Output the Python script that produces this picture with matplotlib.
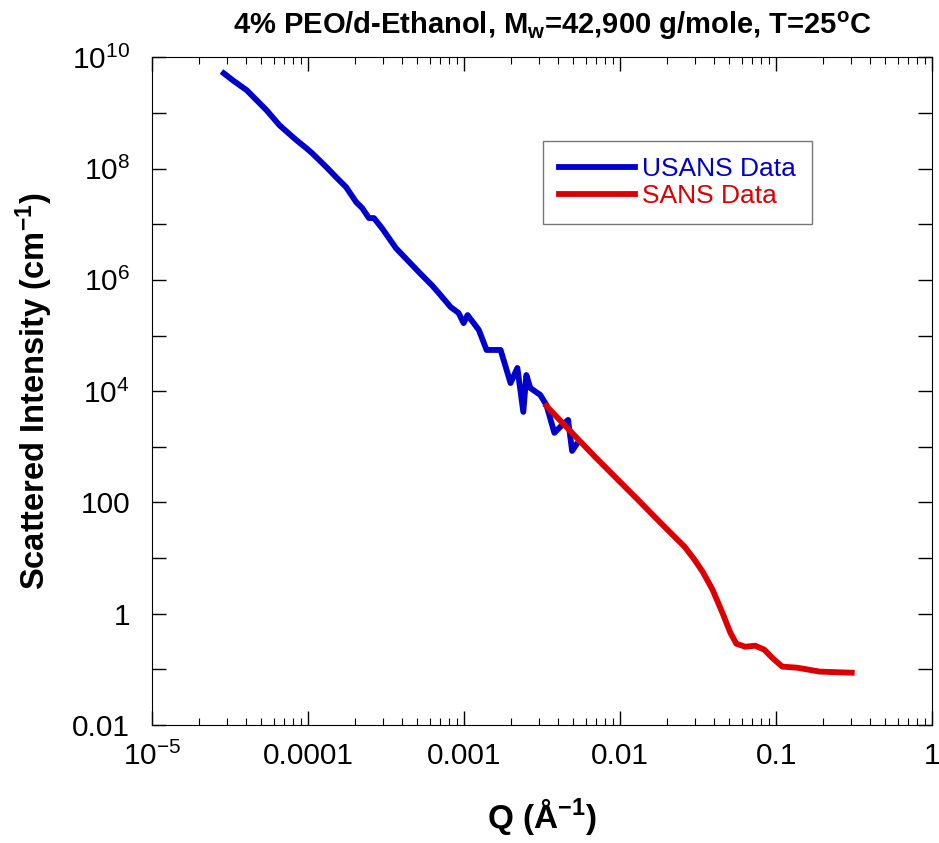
import numpy as np
import matplotlib
matplotlib.use("Agg")
import matplotlib.pyplot as plt
from matplotlib.ticker import FixedLocator, FixedFormatter, LogLocator, NullFormatter

plt.rcParams['font.family'] = ['Liberation Sans', 'DejaVu Sans']
plt.rcParams['mathtext.fontset'] = 'custom'
plt.rcParams['mathtext.rm'] = 'Liberation Sans'
plt.rcParams['mathtext.it'] = 'Liberation Sans'
plt.rcParams['mathtext.bf'] = 'Liberation Sans:bold'
plt.rcParams['mathtext.default'] = 'regular'

# USANS data
q_usans = [2.88e-5, 3.29e-5, 4.04e-5, 5.41e-5, 6.55e-5, 8.41e-5, 9.75e-5, 1.06e-4,
           1.31e-4, 1.51e-4, 1.75e-4, 2.03e-4, 2.22e-4, 2.45e-4, 2.64e-4, 2.97e-4,
           3.65e-4, 5.12e-4, 6.19e-4, 6.87e-4, 8.18e-4, 9.20e-4,
           9.91e-4, 1.05e-3, 1.24e-3, 1.39e-3, 1.71e-3, 1.98e-3, 2.19e-3, 2.39e-3,
           2.50e-3, 2.65e-3, 3.07e-3, 3.36e-3, 3.78e-3, 4.12e-3, 4.63e-3, 4.91e-3,
           5.21e-3]
i_usans = [5.16e9, 3.86e9, 2.56e9, 1.12e9, 6.01e8, 3.24e8, 2.32e8, 1.89e8,
           1.06e8, 7.01e7, 4.64e7, 2.50e7, 1.95e7, 1.29e7, 1.29e7, 8.51e6,
           3.72e6, 1.38e6, 8.07e5, 5.79e5, 3.25e5, 2.54e5,
           1.67e5, 2.33e5, 1.26e5, 5.50e4, 5.50e4, 1.40e4, 2.61e4, 4.24e3,
           1.95e4, 1.14e4, 8.55e3, 5.65e3, 1.78e3, 2.28e3, 3.04e3, 8.43e2,
           1.08e3]

# SANS data
q_sans = [3.36e-3, 4.84e-3, 6.89e-3, 9.66e-3, 1.30e-2, 1.66e-2, 2.10e-2, 2.58e-2,
          2.99e-2, 3.37e-2, 3.90e-2, 4.51e-2, 5.07e-2, 5.54e-2, 6.32e-2, 7.32e-2,
          8.36e-2, 9.39e-2, 0.109, 0.136, 0.190, 0.304]
i_sans = [5.42e3, 1.85e3, 659, 255, 111, 55.1, 28.4, 16.0,
          9.33, 5.68, 2.70, 1.04, 0.456, 0.289, 0.255, 0.266,
          0.226, 0.162, 0.112, 0.107, 0.091, 0.087]

xticks = [1e-5, 1e-4, 1e-3, 1e-2, 1e-1, 1]
xticklabels = ['$10^{-5}$', '0.0001', '0.001', '0.01', '0.1', '1']
yticks = [1e-2, 1, 1e2, 1e4, 1e6, 1e8, 1e10]
yticklabels = ['0.01', '1', '100', '$10^{4}$', '$10^{6}$', '$10^{8}$', '$10^{10}$']

fig = plt.figure(figsize=(9.39, 8.43), dpi=100)
ax = fig.add_axes([0.162, 0.140, 0.831, 0.792])

ax.plot(q_usans, i_usans, color='#0000cc', lw=4.2, label='USANS Data')
ax.plot(q_sans, i_sans, color='#dd0000', lw=4.2, label='SANS Data')

ax.set_xscale('log')
ax.set_yscale('log')
ax.set_xlim(1e-5, 1)
ax.set_ylim(1e-2, 1e10)

ax.xaxis.set_major_locator(FixedLocator(xticks))
ax.xaxis.set_major_formatter(FixedFormatter(xticklabels))
ax.xaxis.set_minor_locator(LogLocator(base=10, subs=np.arange(2, 10)))
ax.xaxis.set_minor_formatter(NullFormatter())

ax.yaxis.set_major_locator(FixedLocator(yticks))
ax.yaxis.set_major_formatter(FixedFormatter(yticklabels))
ax.yaxis.set_minor_locator(FixedLocator([10.0**k for k in range(-1, 10, 2)]))
ax.yaxis.set_minor_formatter(NullFormatter())

ax.tick_params(which='both', direction='in', top=True, right=True, labelsize=21.5)
ax.tick_params(axis='x', pad=12)
ax.tick_params(axis='y', pad=16)
ax.tick_params(which='major', length=10, width=1)
ax.tick_params(which='minor', length=5, width=0.8)
ax.tick_params(axis='y', which='minor', length=10, width=1)

ax.set_xlabel('Q (Å$^{-1}$)', fontsize=24, fontweight='bold')
ax.xaxis.set_label_coords(0.5, -0.106)
ax.set_ylabel('Scattered Intensity (cm$^{-1}$)', fontsize=23.5, fontweight='bold')
ax.yaxis.set_label_coords(-0.125, 0.5)
ax.set_title('4% PEO/d-Ethanol, M$_{w}$=42,900 g/mole, T=25$^{o}$C',
             fontsize=21, fontweight='bold', pad=17, x=0.513)

leg = ax.legend(loc='upper left', bbox_to_anchor=(0.501, 0.874), fontsize=19,
                frameon=True, fancybox=False, edgecolor='#555555',
                handlelength=2.9, handletextpad=0.25, borderpad=0.6,
                borderaxespad=0, labelspacing=0.1)
leg.get_frame().set_linewidth(1.0)
for line, text in zip(leg.get_lines(), leg.get_texts()):
    text.set_color(line.get_color())

plt.savefig('out.png', dpi=100)
